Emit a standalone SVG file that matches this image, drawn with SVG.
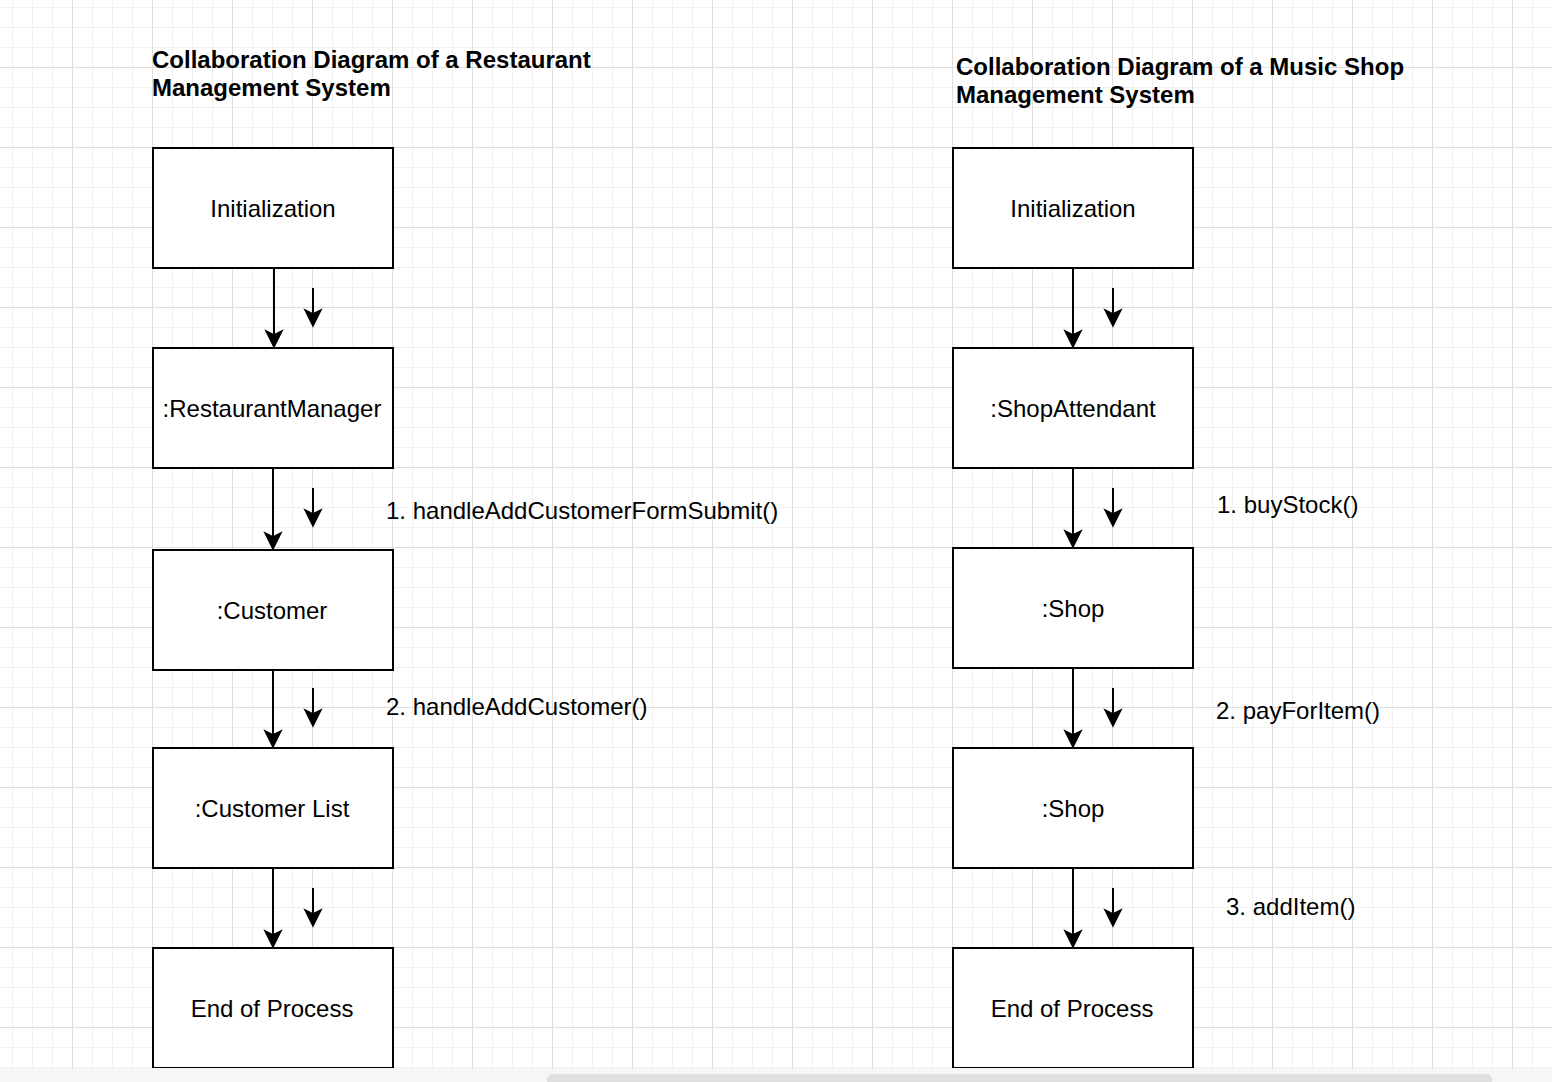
<svg xmlns="http://www.w3.org/2000/svg" width="1552" height="1082" viewBox="0 0 1552 1082">
<style>
.box{fill:#fff;stroke:#000;stroke-width:2}
.t{font-family:"Liberation Sans",Arial,Helvetica,sans-serif;font-size:24px;fill:#000}
.c{text-anchor:middle}
.b{font-weight:bold}
.e{stroke:#000;stroke-width:2;fill:none;marker-end:url(#arr)}
</style>
<defs>
<pattern id="grid" x="72" y="67" width="80" height="80" patternUnits="userSpaceOnUse">
<rect width="80" height="80" fill="#fff"/>
<rect x="20" y="0" width="1" height="80" fill="#f1f1f1"/>
<rect x="40" y="0" width="1" height="80" fill="#f1f1f1"/>
<rect x="60" y="0" width="1" height="80" fill="#f1f1f1"/>
<rect x="0" y="20" width="80" height="1" fill="#f1f1f1"/>
<rect x="0" y="40" width="80" height="1" fill="#f1f1f1"/>
<rect x="0" y="60" width="80" height="1" fill="#f1f1f1"/>
<rect x="0" y="0" width="1" height="80" fill="#dedede"/>
<rect x="0" y="0" width="80" height="1" fill="#dedede"/>
</pattern>
<marker id="arr" markerWidth="20" markerHeight="20" viewBox="0 0 20 20" refX="8" refY="10" orient="auto" markerUnits="userSpaceOnUse">
<path d="M18,10 L2,2 L6,10 L2,18 Z" fill="#000" stroke="#000" stroke-width="1.5" stroke-linejoin="miter"/>
</marker>
</defs>
<rect width="1552" height="1082" fill="url(#grid)"/>

<g id="title-left">
<text class="t b" x="152" y="68">Collaboration Diagram of a Restaurant</text>
<text class="t b" x="152" y="96">Management System</text>
</g>
<g id="title-right">
<text class="t b" x="956" y="75">Collaboration Diagram of a Music Shop</text>
<text class="t b" x="956" y="103">Management System</text>
</g>

<g id="connectors">
<line class="e" x1="274" y1="268" x2="274" y2="337"/>
<line class="e" x1="313" y1="288" x2="313" y2="316"/>
<line class="e" x1="273" y1="468" x2="273" y2="539"/>
<line class="e" x1="313" y1="488" x2="313" y2="516"/>
<line class="e" x1="273" y1="670" x2="273" y2="737"/>
<line class="e" x1="313" y1="688" x2="313" y2="716"/>
<line class="e" x1="273" y1="868" x2="273" y2="937"/>
<line class="e" x1="313" y1="888" x2="313" y2="916"/>

<line class="e" x1="1073" y1="268" x2="1073" y2="337"/>
<line class="e" x1="1113" y1="288" x2="1113" y2="316"/>
<line class="e" x1="1073" y1="468" x2="1073" y2="537"/>
<line class="e" x1="1113" y1="488" x2="1113" y2="516"/>
<line class="e" x1="1073" y1="668" x2="1073" y2="737"/>
<line class="e" x1="1113" y1="688" x2="1113" y2="716"/>
<line class="e" x1="1073" y1="868" x2="1073" y2="937"/>
<line class="e" x1="1113" y1="888" x2="1113" y2="916"/>
</g>

<g id="labels">
<text class="t" x="386" y="519">1. handleAddCustomerFormSubmit()</text>
<text class="t" x="386" y="715">2. handleAddCustomer()</text>
<text class="t" x="1217" y="513">1. buyStock()</text>
<text class="t" x="1216" y="719">2. payForItem()</text>
<text class="t" x="1226" y="915">3. addItem()</text>
</g>

<g id="l-init"><rect class="box" x="153" y="148" width="240" height="120"/><text class="t c" x="273" y="217">Initialization</text></g>
<g id="l-manager"><rect class="box" x="153" y="348" width="240" height="120"/><text class="t c" x="272" y="417">:RestaurantManager</text></g>
<g id="l-customer"><rect class="box" x="153" y="550" width="240" height="120"/><text class="t c" x="272" y="619">:Customer</text></g>
<g id="l-customerlist"><rect class="box" x="153" y="748" width="240" height="120"/><text class="t c" x="272" y="817">:Customer List</text></g>
<g id="l-end"><rect class="box" x="153" y="948" width="240" height="120"/><text class="t c" x="272" y="1017">End of Process</text></g>

<g id="r-init"><rect class="box" x="953" y="148" width="240" height="120"/><text class="t c" x="1073" y="217">Initialization</text></g>
<g id="r-attendant"><rect class="box" x="953" y="348" width="240" height="120"/><text class="t c" x="1073" y="417">:ShopAttendant</text></g>
<g id="r-shop1"><rect class="box" x="953" y="548" width="240" height="120"/><text class="t c" x="1073" y="617">:Shop</text></g>
<g id="r-shop2"><rect class="box" x="953" y="748" width="240" height="120"/><text class="t c" x="1073" y="817">:Shop</text></g>
<g id="r-end"><rect class="box" x="953" y="948" width="240" height="120"/><text class="t c" x="1072" y="1017">End of Process</text></g>

<rect x="0" y="1068" width="1552" height="14" fill="#f5f6f7"/>
<rect x="547" y="1074" width="945" height="16" rx="6" fill="#dedfe1"/>
</svg>
